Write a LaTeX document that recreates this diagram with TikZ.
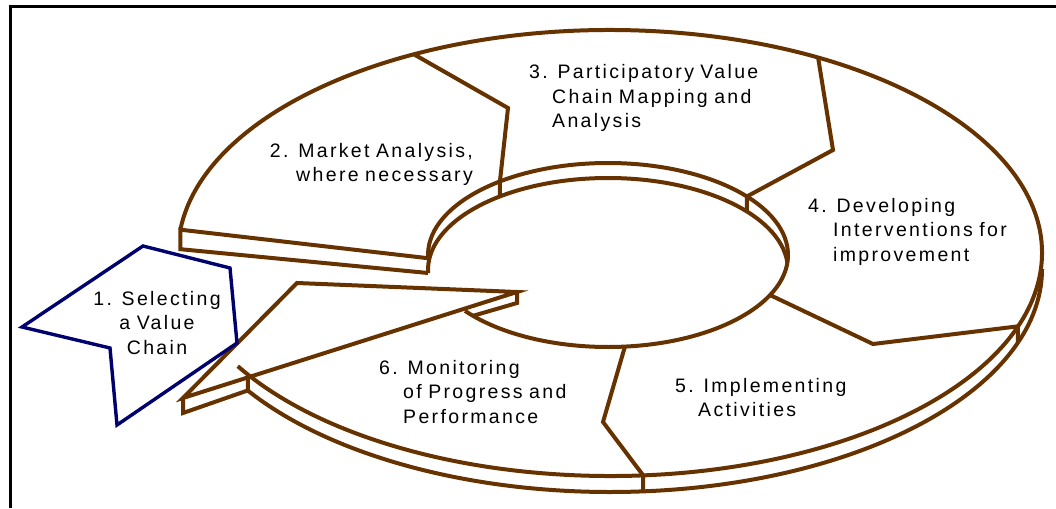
\documentclass[tikz,border=0pt]{standalone}
\usepackage{fontspec}
\setmainfont[LetterSpace=12]{Liberation Sans}
\usetikzlibrary{calc}
\definecolor{ringbrown}{RGB}{102,51,0}
\definecolor{stepnavy}{RGB}{0,0,110}
\def\ellarc[#1](#2)(#3:#4:#5:#6){\draw[#1] ($(#2)+({#5*cos(#3)},{#6*sin(#3)})$) arc (#3:#4:#5 and #6);}
\tikzset{
	ring/.style={draw=ringbrown, line width=4pt},
	steplabel/.style={font=\fontsize{19.5}{24.5}\selectfont, inner sep=0pt, text width=260pt}
}

\begin{document}
\begin{tikzpicture}[x=1pt, y=-1pt]
			%%%%% START %%%%%
			\useasboundingbox (0,0) rectangle (1056,508);
			
			\draw[line width=3pt] (10.5,508) -- (10.5,6.5) -- (1056,6.5);
			
			\coordinate (oc) at (610,253);
			\coordinate (ocl) at (610,269);
			\coordinate (ic) at (608,255);
			\coordinate (icl) at (608,270);
			
			\ellarc[ring](oc)(186:509.5:432:223);
			\ellarc[ring](ocl)(0:147:432:223);
			\ellarc[ring](ic)(178:502.6:180:92);
			\ellarc[ring](icl)(178:355.3:180:92);
			
			\coordinate (o2) at ($(oc)+(186:432 and 223)$);
			\coordinate (i2) at ($(ic)+(178:180 and 92)$);
			\draw[ring] (i2) -- (o2) -- ++(0,19.5) -- (428,273);
			
			\coordinate (o23) at ($(oc)+(243:432 and 223)$);
			\coordinate (i23) at ($(ic)+(233.1:180 and 92)$);
			\draw[ring] (o23) -- (508,108) -- (i23) -- ++(0,15);
			
			\coordinate (o34) at ($(oc)+(298.8:432 and 223)$);
			\coordinate (i34) at ($(ic)+(320.5:180 and 92)$);
			\draw[ring] (o34) -- (833,150) -- (i34) -- ++(0,15);
			
			\coordinate (i45) at ($(ic)+(25.8:180 and 92)$);
			\coordinate (o45) at ($(oc)+(19.2:432 and 223)$);
			\draw[ring] (i45) -- (873,344) -- (o45) -- ++(0,16);
			
			\coordinate (i56) at ($(ic)+(84.6:180 and 92)$);
			\coordinate (o56) at ($(oc)+(85.6:432 and 223)$);
			\draw[ring] (i56) -- (603,422) -- (o56) -- ++(0,16);
			
			\coordinate (tip) at (183,398);
			\coordinate (back) at (297,283);
			\coordinate (head) at (517,292);
			\coordinate (o6) at ($(tip)!0.194!(head)$);
			\coordinate (i6) at ($(ic)+(138.6:180 and 92)$);
			\draw[ring] (tip) -- (back) -- (head) -- cycle;
			\draw[ring] (tip) -- ++(0,15) -- ($(o6)+(0,13)$) -- (o6);
			\draw[ring] (head) -- ++(0,11) -- (i6);
			
			\draw[draw=stepnavy, line width=3.4pt] (22,327) -- (143,246) -- (230,268) -- (237,343) -- (117,425) -- (110,348) -- cycle;
			
			\node[steplabel, align=center, anchor=base] (s1) at (157,305) {1. Selecting\\a Value\\Chain};
			\node[steplabel, align=right, anchor=base east] (s2) at (473,157) {2. Market Analysis,\\where necessary};
			\node[steplabel, align=left, anchor=base west] (s3) at (529,79) {3. Participatory Value\\\hspace*{23pt}Chain Mapping and\\\hspace*{23pt}Analysis};
			\node[steplabel, align=left, anchor=base west] (s4) at (808,212) {4. Developing\\\hspace*{25pt}Interventions for\\\hspace*{25pt}improvement};
			\node[steplabel, align=left, anchor=base west] (s5) at (675,392) {5. Implementing\\\hspace*{23pt}Activities};
			\node[steplabel, align=left, anchor=base west] (s6) at (379,374) {6. Monitoring\\\hspace*{24pt}of Progress and\\\hspace*{24pt}Performance};
			
			%%%%% END %%%%%
\end{tikzpicture}
\end{document}
